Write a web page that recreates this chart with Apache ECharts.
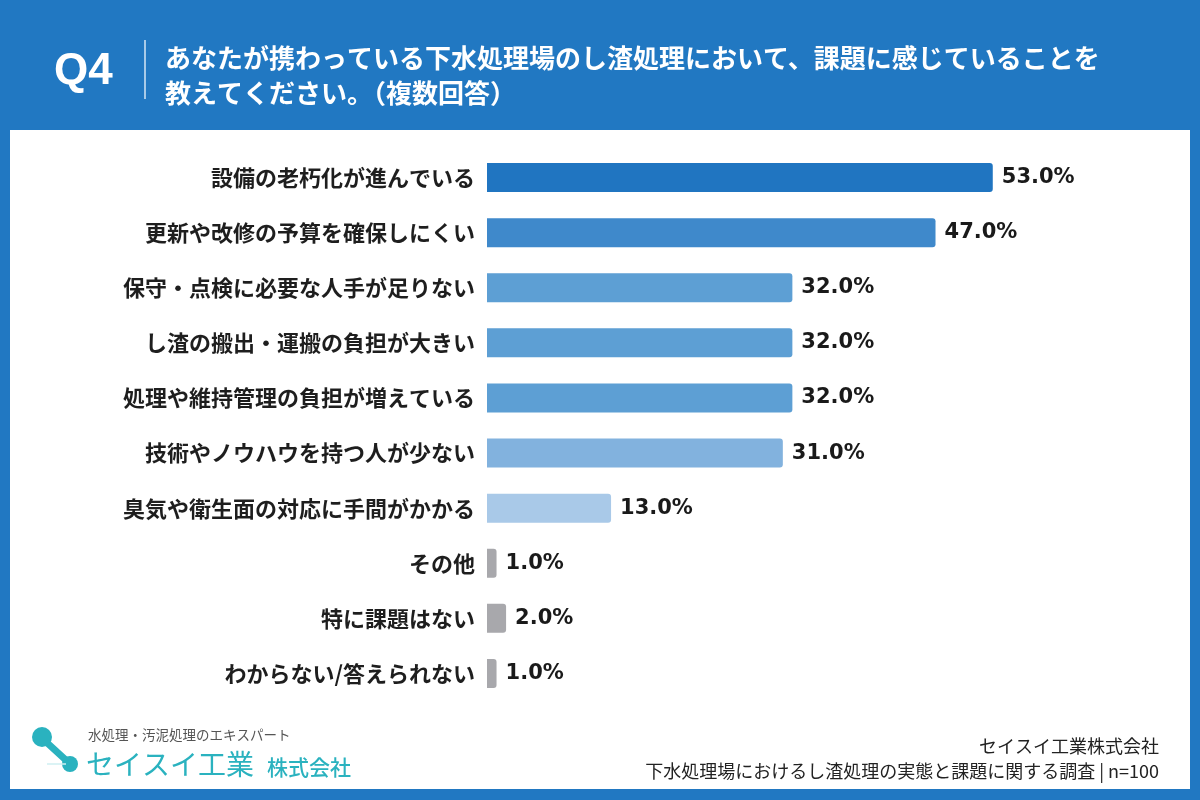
<!DOCTYPE html>
<html>
<head>
    <meta charset="utf-8">
    <title>Q4</title>
    <script src="https://cdn.jsdelivr.net/npm/echarts@6/dist/echarts.min.js"></script>
    <style>
        * { margin: 0; padding: 0; }
    </style>
</head>
<body>
    <div id="main" style="width: 1200px; height: 800px;"></div>
    <script type="text/javascript">
        // データ
        var categories = [
            '設備の老朽化が進んでいる',
            '更新や改修の予算を確保しにくい',
            '保守・点検に必要な人手が足りない',
            'し渣の搬出・運搬の負担が大きい',
            '処理や維持管理の負担が増えている',
            '技術やノウハウを持つ人が少ない',
            '臭気や衛生面の対応に手間がかかる',
            'その他',
            '特に課題はない',
            'わからない/答えられない'
        ];
        var values = [53.0, 47.0, 32.0, 32.0, 32.0, 31.0, 13.0, 1.0, 2.0, 1.0];
        var barColors = ['#2075c1', '#3f89cb', '#5d9fd4', '#5d9fd4', '#5d9fd4',
            '#82b2de', '#a9c9e8', '#a8a8ac', '#a8a8ac', '#a8a8ac'];

        var titleLines = [
            'あなたが携わっている下水処理場のし渣処理において、課題に感じていることを',
            '教えてください。（複数回答）'
        ];
        var sourceLines = [
            'セイスイ工業株式会社',
            '下水処理場におけるし渣処理の実態と課題に関する調査 | n=100'
        ];

        var jp = '"Noto Sans CJK JP", "Noto Sans", sans-serif';
        var teal = '#2ab2bf';

        var myChart = echarts.init(document.getElementById('main'));

        var option = {
            backgroundColor: '#2178c2',
            animation: false,
            grid: { left: 487, right: 45, top: 150, bottom: 99 },
            xAxis: {
                type: 'value',
                min: 0,
                max: 70,
                show: false
            },
            yAxis: {
                type: 'category',
                inverse: true,
                data: categories,
                axisLine: { show: false },
                axisTick: { show: false },
                axisLabel: {
                    margin: 12,
                    color: '#1e1e1e',
                    fontSize: 22,
                    fontWeight: 'bold',
                    fontFamily: jp
                }
            },
            series: [{
                type: 'bar',
                barWidth: 29,
                data: values.map(function (v, i) {
                    return { value: v, itemStyle: { color: barColors[i] } };
                }),
                itemStyle: { borderRadius: [0, 3, 3, 0] },
                label: {
                    show: true,
                    position: 'right',
                    distance: 9,
                    color: '#1a1a1a',
                    fontSize: 21,
                    fontWeight: 'bold',
                    fontFamily: '"DejaVu Sans", sans-serif',
                    formatter: function (p) { return p.value.toFixed(1) + '%'; }
                }
            }],
            graphic: [
                // 白いパネル
                { type: 'rect', z: -10, shape: { x: 10, y: 130, width: 1180, height: 659 }, style: { fill: '#ffffff' } },
                // タイトル
                { type: 'text', x: 54, y: 72, style: { text: 'Q4', fill: '#fff', font: 'bold 44px "Liberation Sans", Arial, sans-serif', textVerticalAlign: 'middle' } },
                { type: 'line', shape: { x1: 145, y1: 40, x2: 145, y2: 99 }, style: { stroke: '#d5e6f5', lineWidth: 1.5 } },
                { type: 'text', x: 165, y: 58, style: { text: titleLines[0], fill: '#fff', font: 'bold 26px ' + jp, textVerticalAlign: 'middle' } },
                { type: 'text', x: 165, y: 93, style: { text: titleLines[1], fill: '#fff', font: 'bold 26px ' + jp, textVerticalAlign: 'middle' } },
                // ロゴ
                { type: 'line', shape: { x1: 44, y1: 740, x2: 68, y2: 762 }, style: { stroke: teal, lineWidth: 7, lineCap: 'round' } },
                { type: 'circle', shape: { cx: 42, cy: 737, r: 10 }, style: { fill: teal } },
                { type: 'circle', shape: { cx: 70, cy: 764, r: 8 }, style: { fill: teal } },
                { type: 'line', shape: { x1: 47, y1: 764, x2: 66, y2: 764 }, style: { stroke: '#cfeff2', lineWidth: 1.5 } },
                { type: 'text', x: 88, y: 735, style: { text: '水処理・汚泥処理のエキスパート', fill: '#555', font: '13.5px ' + jp, textVerticalAlign: 'middle' } },
                { type: 'text', x: 86, y: 764, style: { text: 'セイスイ工業', fill: teal, font: '28px ' + jp, textVerticalAlign: 'middle' } },
                { type: 'text', x: 267, y: 767, style: { text: '株式会社', fill: teal, font: '500 21px ' + jp, textVerticalAlign: 'middle' } },
                // 出典
                { type: 'text', x: 1159, y: 746, style: { text: sourceLines[0], fill: '#222', font: '18px ' + jp, align: 'right', textVerticalAlign: 'middle' } },
                { type: 'text', x: 1159, y: 771, style: { text: sourceLines[1], fill: '#222', font: '18px ' + jp, align: 'right', textVerticalAlign: 'middle' } }
            ]
        };

        myChart.setOption(option);
    </script>
</body>
</html>
